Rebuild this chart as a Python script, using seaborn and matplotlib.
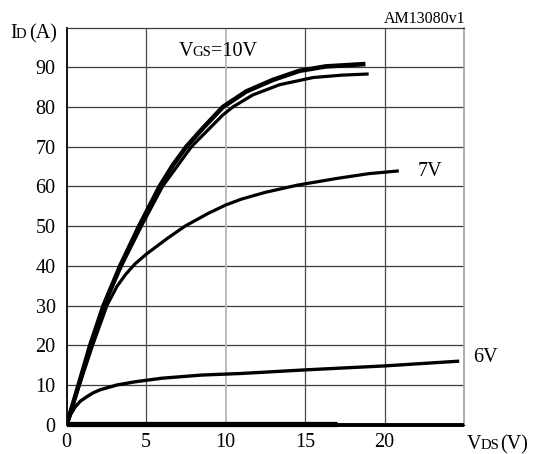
import matplotlib
matplotlib.use("Agg")
import matplotlib.pyplot as plt
import seaborn as sns
import pandas as pd

# Output characteristics: drain current vs drain-source voltage
vds_10v = [0, 0.75, 1.48, 2.32, 3.37, 4.56, 5.85, 6.69, 7.53, 8.58, 9.83,
           11.3, 12.97, 14.65, 16.3, 18.8]
id_10v = [0, 10, 20, 30, 40, 50, 60, 65.4, 70, 74.7, 80,
          83.9, 86.8, 89.1, 90.2, 90.8]

vds_9v = [0, 0.77, 1.5, 2.36, 3.45, 4.7, 6.03, 7.85, 9.83, 10.46, 11.7,
          13.4, 15.5, 17.3, 19.0]
id_9v = [0, 10, 20, 30, 40, 50, 60, 70, 78, 80, 83,
         85.6, 87.4, 88.0, 88.3]

vds_7v = [0, 0.8, 1.63, 2.53, 3.16, 3.7, 4.3, 5.0, 5.56, 6.4, 7.45, 8.9,
          10.0, 11.0, 12.5, 14.5, 17.0, 19.0, 20.9]
id_7v = [0, 10, 20, 30, 34.8, 37.8, 40.5, 42.9, 44.6, 47.1, 50, 53.2,
         55.3, 56.8, 58.5, 60.3, 62.0, 63.2, 63.9]

vds_6v = [0, 0.25, 0.54, 0.85, 1.27, 1.65, 2.11, 3.16, 4.3, 5.98, 8.5,
          11.0, 15.0, 20.0, 24.7]
id_6v = [0, 2.6, 4.5, 5.9, 7.05, 8.0, 8.8, 10.0, 10.8, 11.7, 12.5,
         12.9, 13.8, 14.8, 16.0]

vds_5v = [0, 17.0]
id_5v = [0.25, 0.25]

vds_off = [0, 25.0]
id_off = [0, 0]

x_ticks = [0, 5, 10, 15, 20]
y_ticks = [0, 10, 20, 30, 40, 50, 60, 70, 80, 90]

sns.set_style("white")
plt.rcParams["font.family"] = ["Liberation Serif", "DejaVu Serif"]

W, H = 538, 454
fig = plt.figure(figsize=(W / 100, H / 100), dpi=100)
ax = fig.add_axes([66.7 / W, 1 - 424.7 / H, (464 - 66.7) / W, (424.7 - 27.5) / H])

# name, x, y, line width, clipped to the axes
series = [
    ("10V", vds_10v, id_10v, 3.3, True),
    ("9V", vds_9v, id_9v, 2.3, True),
    ("7V", vds_7v, id_7v, 2.3, True),
    ("6V", vds_6v, id_6v, 2.4, True),
    ("5V", vds_5v, id_5v, 3.8, False),
    ("off", vds_off, id_off, 2.8, False),
]

for name, xs, ys, lw, clip in series:
    df = pd.DataFrame({"vds": xs, "id": ys})
    sns.lineplot(data=df, x="vds", y="id", ax=ax, color="black", lw=lw,
                 sort=False, estimator=None, legend=False,
                 solid_capstyle="butt", solid_joinstyle="round",
                 zorder=5, clip_on=clip)

ax.set_xlim(0, 25)
ax.set_ylim(0, 100)
ax.set_xticks(x_ticks)
ax.set_yticks(y_ticks)
ax.set_xlabel("")
ax.set_ylabel("")
ax.tick_params(axis="both", length=0, labelsize=14.5, colors="black")
ax.tick_params(axis="y", pad=8)
ax.tick_params(axis="x", pad=6)

# grid: horizontal every 10 A, vertical every 5 V (the 10 V line lighter)
for y in y_ticks[1:]:
    ax.axhline(y, color="#3c3c3c", lw=0.9, zorder=1)
for x in x_ticks[1:]:
    if x == 10:
        ax.axvline(x, color="#b8b8b8", lw=1.3, zorder=1)
    else:
        ax.axvline(x, color="#4a4a4a", lw=0.9, zorder=1)

ax.spines["left"].set_color("black")
ax.spines["left"].set_linewidth(1.3)
ax.spines["top"].set_color("#3c3c3c")
ax.spines["top"].set_linewidth(0.9)
ax.spines["right"].set_color("#a0a0a0")
ax.spines["right"].set_linewidth(1.2)
ax.spines["bottom"].set_color("black")
ax.spines["bottom"].set_linewidth(1.0)


def ftext(px, py, s, size, ha="left"):
    fig.text(px / W, 1 - py / H, s, fontsize=size, ha=ha, va="baseline", color="black")


# axis titles with small-caps subscripts
ftext(10, 38, "I", 14.5)
ftext(16, 38, "D", 10.5)
ftext(29, 38, "(A)", 14.5)

ftext(467, 449, "V", 14.5)
ftext(481, 449, "DS", 10.5)
ftext(500, 449, "(V)", 14.5)

ftext(179, 56, "V", 14.5)
ftext(192, 56, "GS", 10.5)
ftext(211, 56, "=10V", 14.5)

ftext(418, 176, "7V", 14.5)
ftext(473, 362, "6V", 14.5)

ftext(465, 23, "AM13080v1", 11.5, ha="right")

fig.savefig("out.png", dpi=100)
